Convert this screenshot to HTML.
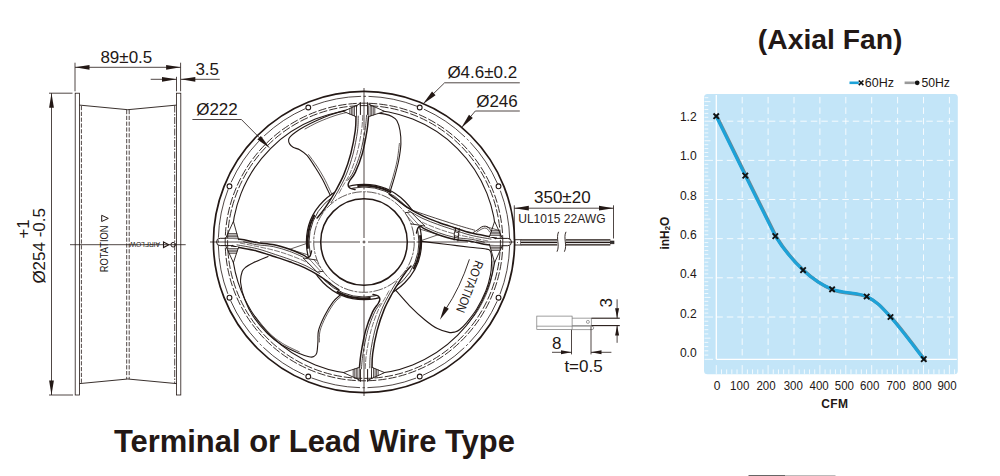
<!DOCTYPE html>
<html><head><meta charset="utf-8"><title>Axial Fan</title>
<style>
html,body{margin:0;padding:0;background:#fff;}
body{width:1000px;height:476px;overflow:hidden;}
svg{display:block;font-family:"Liberation Sans",sans-serif;}
</style></head><body>
<svg width="1000" height="476" viewBox="0 0 1000 476">
<rect width="1000" height="476" fill="#ffffff"/>
<g id="side" fill="none" stroke="#231815" stroke-width="0.9">
<rect x="75.2" y="93.2" width="4.3" height="301.8" stroke-width="0.8"/>
<rect x="176.5" y="93.2" width="4.3" height="301.8" stroke-width="0.8"/>
<polyline points="79.5,105.1 127.8,109.7 176.5,105.1" stroke-width="0.9"/>
<polyline points="79.5,383.6 127.8,379.0 176.5,383.6" stroke-width="0.9"/>
<line x1="81.4" y1="106" x2="81.4" y2="383.4" stroke-dasharray="4.2 1.6" stroke-width="0.8"/>
<line x1="126.7" y1="110" x2="126.7" y2="379" stroke-dasharray="4.2 1.6" stroke-width="0.8"/>
<line x1="129.2" y1="110" x2="129.2" y2="379" stroke-dasharray="4.2 1.6" stroke-width="0.8"/>
<line x1="174.7" y1="105.5" x2="174.7" y2="383.4" stroke-dasharray="7 1.5 1.5 1.5" stroke-width="0.8"/>
<line x1="70" y1="244.7" x2="185.7" y2="244.7" stroke-width="0.8"/>
<line x1="75.00" y1="62.70" x2="75.00" y2="91.30" stroke="#231815" stroke-width="0.8" />
<line x1="180.60" y1="62.70" x2="180.60" y2="91.30" stroke="#231815" stroke-width="0.8" />
<line x1="75.00" y1="67.30" x2="180.60" y2="67.30" stroke="#231815" stroke-width="0.8" />
<line x1="176.50" y1="76.80" x2="176.50" y2="91.30" stroke="#231815" stroke-width="0.8" />
<line x1="150.70" y1="79.30" x2="176.50" y2="79.30" stroke="#231815" stroke-width="0.8" />
<line x1="180.80" y1="79.30" x2="219.80" y2="79.30" stroke="#231815" stroke-width="0.8" />
<line x1="49.00" y1="93.20" x2="72.50" y2="93.20" stroke="#231815" stroke-width="0.8" />
<line x1="49.00" y1="395.00" x2="73.00" y2="395.00" stroke="#231815" stroke-width="0.8" />
<line x1="51.50" y1="93.20" x2="51.50" y2="395.00" stroke="#231815" stroke-width="0.8" />
</g>
<polygon points="75.00,67.30 89.50,64.90 89.50,69.70" fill="#231815"/>
<polygon points="180.60,67.30 166.10,69.70 166.10,64.90" fill="#231815"/>
<polygon points="176.50,79.30 162.00,81.70 162.00,76.90" fill="#231815"/>
<polygon points="180.80,79.30 195.30,76.90 195.30,81.70" fill="#231815"/>
<polygon points="51.50,93.20 53.90,107.70 49.10,107.70" fill="#231815"/>
<polygon points="51.50,395.00 49.10,380.50 53.90,380.50" fill="#231815"/>
<text x="100.40" y="62.70" font-size="17.0" text-anchor="start" font-weight="normal" fill="#231815" >89±0.5</text>
<text x="195.40" y="74.70" font-size="17.0" text-anchor="start" font-weight="normal" fill="#231815" >3.5</text>
<text x="0.00" y="0.00" font-size="17.0" text-anchor="start" font-weight="normal" fill="#231815" transform="translate(44.5,283.6) rotate(-90)">Ø254 -0.5</text>
<text x="0.00" y="0.00" font-size="17.0" text-anchor="start" font-weight="normal" fill="#231815" transform="translate(28.9,238.6) rotate(-90)">+1</text>
<text x="0.00" y="0.00" font-size="11.0" text-anchor="start" font-weight="normal" fill="#231815" textLength="46.7" lengthAdjust="spacingAndGlyphs" transform="translate(108.2,272.2) rotate(-90)">ROTATION</text>
<polygon points="101.7,215.3 108.3,218.4 101.7,221.5" fill="none" stroke="#231815" stroke-width="1.0"/>
<text x="0.00" y="0.00" font-size="7.1" text-anchor="start" font-weight="normal" fill="#231815" textLength="30.3" lengthAdjust="spacingAndGlyphs" transform="translate(160.0,242.2) rotate(180)">AIRFLOW</text>
<polygon points="163.5,241.9 168.8,244.7 163.5,247.5" fill="none" stroke="#231815" stroke-width="1.1"/>
<circle cx="173.2" cy="244.7" r="2.3" fill="none" stroke="#231815" stroke-width="1.0"/>
<g id="front" fill="none" stroke="#231815" stroke-width="0.9" stroke-linecap="round" stroke-linejoin="round">
<circle cx="364.0" cy="242.0" r="132.2" stroke-width="1.1"/>
<path d="M352.50,109.30 C351.07,109.52 347.65,109.65 343.90,110.60 C340.15,111.55 334.62,113.30 330.00,115.00 C325.38,116.70 320.43,118.87 316.20,120.80 C311.97,122.73 308.05,124.68 304.60,126.60 C301.15,128.52 297.88,130.63 295.50,132.30 C293.12,133.97 291.45,135.38 290.30,136.60 C289.15,137.82 288.72,138.38 288.60,139.60 C288.48,140.82 288.85,142.62 289.60,143.90 C290.35,145.18 291.37,146.30 293.10,147.30 C294.83,148.30 297.68,148.55 300.00,149.90 C302.32,151.25 304.50,152.55 307.00,155.40 C309.50,158.25 312.50,163.15 315.00,167.00 C317.50,170.85 319.88,174.67 322.00,178.50 C324.12,182.33 326.23,187.00 327.70,190.00 C329.17,193.00 330.28,195.42 330.80,196.50" stroke-width="1.1"/>
<path d="M349.00,111.90 C346.67,112.52 340.17,113.88 335.00,115.60 C329.83,117.32 323.00,119.97 318.00,122.20 C313.00,124.43 307.17,127.87 305.00,129.00" stroke-width="0.7"/>
<path d="M308.60,154.60 C309.97,156.50 314.27,162.17 316.80,166.00 C319.33,169.83 321.68,173.73 323.80,177.60 C325.92,181.47 328.07,186.20 329.50,189.20 C330.93,192.20 331.92,194.53 332.40,195.60" stroke-width="0.7"/>
<path d="M375.50,112.90 C377.08,113.10 382.25,113.48 385.00,114.10 C387.75,114.72 390.03,115.52 392.00,116.60 C393.97,117.68 395.47,118.28 396.80,120.60 C398.13,122.92 399.32,126.58 400.00,130.50 C400.68,134.42 401.12,139.10 400.90,144.10 C400.68,149.10 399.75,155.03 398.70,160.50 C397.65,165.97 396.00,171.82 394.60,176.90 C393.20,181.98 391.02,188.65 390.30,191.00" stroke-width="1.1"/>
<path d="M399.40,143.50 C399.03,146.28 398.25,154.70 397.20,160.20 C396.15,165.70 394.47,171.60 393.10,176.50 C391.73,181.40 389.68,187.42 389.00,189.60" stroke-width="0.7"/>
<path d="M394.80,289.20 C397.27,291.97 404.62,300.72 409.60,305.80 C414.58,310.88 420.07,315.90 424.70,319.70 C429.33,323.50 433.37,326.48 437.40,328.60 C441.43,330.72 445.97,331.83 448.90,332.40 C451.83,332.97 453.23,332.43 455.00,332.00 C456.77,331.57 457.63,331.28 459.50,329.80 C461.37,328.32 463.35,326.52 466.20,323.10 C469.05,319.68 473.32,314.68 476.60,309.30 C479.88,303.92 483.58,296.58 485.90,290.80 C488.22,285.02 489.55,279.40 490.50,274.60 C491.45,269.80 491.48,265.43 491.60,262.00 C491.72,258.57 491.53,255.97 491.20,254.00 C490.87,252.03 490.47,251.03 489.60,250.20 C488.73,249.37 489.27,249.50 486.00,249.00 C482.73,248.50 476.00,247.90 470.00,247.20 C464.00,246.50 456.67,245.60 450.00,244.80 C443.33,244.00 436.33,243.20 430.00,242.40 C423.67,241.60 415.00,240.40 412.00,240.00" stroke-width="1.1"/>
<path d="M467.60,324.20 C469.33,321.87 474.70,315.67 478.00,310.20 C481.30,304.73 485.07,297.27 487.40,291.40 C489.73,285.53 491.05,280.07 492.00,275.00 C492.95,269.93 492.92,263.33 493.10,261.00" stroke-width="0.7"/>
<path d="M268.00,256.40 C265.55,257.45 256.97,260.93 253.30,262.70 C249.63,264.47 247.85,265.53 246.00,267.00 C244.15,268.47 243.10,268.92 242.20,271.50 C241.30,274.08 240.17,277.83 240.60,282.50 C241.03,287.17 242.68,293.83 244.80,299.50 C246.92,305.17 249.52,310.83 253.30,316.50 C257.08,322.17 262.77,328.78 267.50,333.50 C272.23,338.22 276.50,341.50 281.70,344.80 C286.90,348.10 294.15,351.30 298.70,353.30 C303.25,355.30 306.48,356.25 309.00,356.80 C311.52,357.35 312.50,357.27 313.80,356.60 C315.10,355.93 316.12,355.23 316.80,352.80 C317.48,350.37 317.62,345.68 317.90,342.00 C318.18,338.32 317.45,334.95 318.50,330.70 C319.55,326.45 321.83,321.23 324.20,316.50 C326.57,311.77 330.03,305.88 332.70,302.30 C335.37,298.72 338.95,296.22 340.20,295.00" stroke-width="1.1"/>
<path d="M254.60,315.70 C256.93,318.48 263.93,327.77 268.60,332.40 C273.27,337.03 277.48,340.25 282.60,343.50 C287.72,346.75 296.52,350.50 299.30,351.90" stroke-width="0.7"/>
<path d="M319.40,342.00 C319.50,340.17 318.97,335.13 320.00,331.00 C321.03,326.87 323.27,321.82 325.60,317.20 C327.93,312.58 331.40,306.78 334.00,303.30 C336.60,299.82 340.00,297.47 341.20,296.30" stroke-width="0.7"/>
<circle cx="364.0" cy="242.0" r="57.6" fill="#fff" stroke="none"/>
<circle cx="364.0" cy="242.0" r="57.6" stroke-width="1.2"/>
<circle cx="364.0" cy="242.0" r="55.0" stroke-width="0.9"/>
<defs>
<g id="strutW"><path d="M356.20,106.00 C356.18,106.75 356.13,108.92 356.10,110.50 C356.07,112.08 356.13,112.17 356.00,115.50 C355.87,118.83 356.17,124.15 355.30,130.50 C354.43,136.85 352.70,146.28 350.80,153.60 C348.90,160.92 346.40,168.25 343.90,174.40 C341.40,180.55 338.30,185.88 335.80,190.50 C333.30,195.12 331.12,198.60 328.90,202.10 C326.68,205.60 324.48,208.85 322.50,211.50 C320.52,214.15 317.92,216.92 317.00,218.00 L355.00,189.50 C354.13,189.25 350.95,188.78 349.80,188.00 C348.65,187.22 348.10,186.05 348.10,184.80 C348.10,183.55 348.58,182.62 349.80,180.50 C351.02,178.38 353.32,176.58 355.40,172.10 C357.48,167.62 360.37,160.53 362.30,153.60 C364.23,146.67 365.95,136.85 367.00,130.50 C368.05,124.15 368.30,118.83 368.60,115.50 C368.90,112.17 368.77,112.08 368.80,110.50 C368.83,108.92 368.80,106.75 368.80,106.00 Z" fill="#fff" stroke="none"/><path d="M356.20,106.00 C356.18,106.75 356.13,108.92 356.10,110.50 C356.07,112.08 356.13,112.17 356.00,115.50 C355.87,118.83 356.17,124.15 355.30,130.50 C354.43,136.85 352.70,146.28 350.80,153.60 C348.90,160.92 346.40,168.25 343.90,174.40 C341.40,180.55 338.30,185.88 335.80,190.50 C333.30,195.12 331.12,198.60 328.90,202.10 C326.68,205.60 324.48,208.85 322.50,211.50 C320.52,214.15 317.92,216.92 317.00,218.00" stroke-width="1.5"/><path d="M368.80,106.00 C368.80,106.75 368.83,108.92 368.80,110.50 C368.77,112.08 368.90,112.17 368.60,115.50 C368.30,118.83 368.05,124.15 367.00,130.50 C365.95,136.85 364.23,146.67 362.30,153.60 C360.37,160.53 357.48,167.62 355.40,172.10 C353.32,176.58 351.02,178.38 349.80,180.50 C348.58,182.62 348.10,183.55 348.10,184.80 C348.10,186.05 348.65,187.22 349.80,188.00 C350.95,188.78 354.13,189.25 355.00,189.50" stroke-width="1.5"/><path d="M358.20,116.10 C358.08,118.60 358.37,124.75 357.50,131.10 C356.63,137.45 354.90,146.88 353.00,154.20 C351.10,161.52 348.60,168.85 346.10,175.00 C343.60,181.15 340.50,186.48 338.00,191.10 C335.50,195.72 332.25,200.77 331.10,202.70" stroke-width="0.8"/><path d="M366.60,115.20 C366.33,117.70 366.05,123.85 365.00,130.20 C363.95,136.55 362.23,146.37 360.30,153.30 C358.37,160.23 355.48,167.32 353.40,171.80 C351.32,176.28 348.73,178.80 347.80,180.20" stroke-width="0.8"/><path d="M362.70,115.50 C362.51,118.00 362.51,124.15 361.55,130.50 C360.59,136.85 358.87,146.47 356.95,153.60 C355.03,160.72 352.34,167.93 350.05,173.25 C347.76,178.57 345.06,182.13 343.20,185.50 C341.34,188.87 339.62,192.12 338.90,193.45" stroke-width="0.6" stroke-dasharray="5 2"/><polygon points="360.50,103.60 343.40,111.40 356.00,116.60 356.00,105.65" fill="#fff" stroke="none"/><line x1="354.45" y1="106.36" x2="354.45" y2="115.96" stroke-width="0.75"/><line x1="352.90" y1="107.07" x2="352.90" y2="115.32" stroke-width="0.75"/><line x1="351.35" y1="107.77" x2="351.35" y2="114.68" stroke-width="0.75"/><line x1="349.80" y1="108.48" x2="349.80" y2="114.04" stroke-width="0.75"/><path d="M360.50,103.60 L343.40,111.40 L356.00,116.60" stroke-width="0.9"/><polygon points="367.50,103.60 384.60,111.40 368.60,116.60 368.60,104.10" fill="#fff" stroke="none"/><line x1="370.15" y1="104.81" x2="370.15" y2="116.10" stroke-width="0.75"/><line x1="371.70" y1="105.52" x2="371.70" y2="115.59" stroke-width="0.75"/><line x1="373.25" y1="106.22" x2="373.25" y2="115.09" stroke-width="0.75"/><line x1="374.80" y1="106.93" x2="374.80" y2="114.59" stroke-width="0.75"/><path d="M367.50,103.60 L384.60,111.40 L368.60,116.60" stroke-width="0.9"/><rect x="360.40" y="102.40" width="7.2" height="4.0" fill="#fff" stroke="none"/><path d="M360.40,102.60 V114.50 M367.60,102.60 V114.50" stroke-width="1.0"/></g>
<g id="strutN"><path d="M360.40,95.70 C360.40,98.17 360.65,107.38 360.40,110.50 C360.15,113.62 359.78,110.40 358.90,114.40 C358.02,118.40 356.72,128.07 355.10,134.50 C353.48,140.93 351.02,147.47 349.20,153.00 C347.38,158.53 346.00,162.80 344.20,167.70 C342.40,172.60 340.72,177.50 338.40,182.40 C336.08,187.30 333.12,192.58 330.30,197.10 C327.48,201.62 323.88,206.18 321.50,209.50 C319.12,212.82 316.92,215.75 316.00,217.00 L355.00,189.50 C354.13,189.25 350.90,188.68 349.80,188.00 C348.70,187.32 348.22,186.48 348.40,185.40 C348.58,184.32 349.52,184.45 350.90,181.50 C352.28,178.55 354.97,172.62 356.70,167.70 C358.43,162.78 360.18,157.53 361.30,152.00 C362.42,146.47 362.58,139.50 363.40,134.50 C364.22,129.50 365.48,126.00 366.20,122.00 C366.92,118.00 367.45,114.88 367.70,110.50 C367.95,106.12 367.70,98.17 367.70,95.70 Z" fill="#fff" stroke="none"/><path d="M360.40,110.50 L360.40,98.20 A3.65,3.65 0 0 1 367.70,98.20 L367.70,110.50" fill="#fff" stroke-width="1.0"/><path d="M360.40,110.50 C360.15,111.15 359.78,110.40 358.90,114.40 C358.02,118.40 356.72,128.07 355.10,134.50 C353.48,140.93 351.02,147.47 349.20,153.00 C347.38,158.53 346.00,162.80 344.20,167.70 C342.40,172.60 340.72,177.50 338.40,182.40 C336.08,187.30 333.12,192.58 330.30,197.10 C327.48,201.62 323.88,206.18 321.50,209.50 C319.12,212.82 316.92,215.75 316.00,217.00" stroke-width="1.5"/><path d="M367.70,110.50 C367.45,112.42 366.92,118.00 366.20,122.00 C365.48,126.00 364.22,129.50 363.40,134.50 C362.58,139.50 362.42,146.47 361.30,152.00 C360.18,157.53 358.43,162.78 356.70,167.70 C354.97,172.62 352.28,178.55 350.90,181.50 C349.52,184.45 348.58,184.32 348.40,185.40 C348.22,186.48 348.70,187.32 349.80,188.00 C350.90,188.68 354.13,189.25 355.00,189.50" stroke-width="1.5"/><path d="M361.10,115.00 C360.47,118.35 358.92,128.67 357.30,135.10 C355.68,141.53 353.22,148.07 351.40,153.60 C349.58,159.13 348.20,163.40 346.40,168.30 C344.60,173.20 342.92,178.10 340.60,183.00 C338.28,187.90 333.85,195.25 332.50,197.70" stroke-width="0.8"/><path d="M364.20,121.70 C363.73,123.78 362.22,129.20 361.40,134.20 C360.58,139.20 360.42,146.17 359.30,151.70 C358.18,157.23 356.43,162.48 354.70,167.40 C352.97,172.32 349.87,178.90 348.90,181.20" stroke-width="0.8"/><path d="M362.95,118.20 C362.40,120.92 360.87,128.78 359.65,134.50 C358.43,140.22 357.12,146.97 355.65,152.50 C354.18,158.03 352.62,162.79 350.85,167.70 C349.08,172.61 346.90,178.02 345.05,181.95 C343.20,185.88 340.63,189.70 339.75,191.25" stroke-width="0.6" stroke-dasharray="5 2"/><polygon points="360.50,103.60 343.40,111.40 358.90,116.60 358.90,104.33" fill="#fff" stroke="none"/><line x1="357.35" y1="105.04" x2="357.35" y2="116.08" stroke-width="0.75"/><line x1="355.80" y1="105.74" x2="355.80" y2="115.56" stroke-width="0.75"/><line x1="354.25" y1="106.45" x2="354.25" y2="115.04" stroke-width="0.75"/><line x1="352.70" y1="107.16" x2="352.70" y2="114.52" stroke-width="0.75"/><path d="M360.50,103.60 L343.40,111.40 L358.90,116.60" stroke-width="0.9"/><polygon points="367.50,103.60 384.60,111.40 366.20,116.60 366.20,103.01" fill="#fff" stroke="none"/><line x1="367.75" y1="103.71" x2="367.75" y2="116.16" stroke-width="0.75"/><line x1="369.30" y1="104.42" x2="369.30" y2="115.72" stroke-width="0.75"/><line x1="370.85" y1="105.13" x2="370.85" y2="115.29" stroke-width="0.75"/><line x1="372.40" y1="105.84" x2="372.40" y2="114.85" stroke-width="0.75"/><path d="M367.50,103.60 L384.60,111.40 L366.20,116.60" stroke-width="0.9"/><path d="M356.70,167.70 L362.50,184.60 M356.70,167.70 L351.20,185.80" stroke-width="0.7"/><polygon points="348.00,181.50 345.00,200.50 335.40,206.40 334.00,195.60" fill="#fff" stroke-width="0.9"/><line x1="347.10" y1="187.20" x2="334.42" y2="198.84" stroke-width="0.6"/><line x1="346.35" y1="191.95" x2="334.77" y2="201.54" stroke-width="0.6"/><line x1="345.60" y1="196.70" x2="335.12" y2="204.24" stroke-width="0.6"/></g>
</defs>
<use href="#strutW"/>
<use href="#strutW" transform="rotate(180 364.0 242.0)"/>
<use href="#strutN" transform="rotate(90 364.0 242.0)"/>
<use href="#strutN" transform="rotate(-90 364.0 242.0)"/>
<path d="M401.00,203.00 C402.67,204.08 406.33,207.33 411.00,209.50 C415.67,211.67 421.58,213.48 429.00,216.00 C436.42,218.52 447.90,222.23 455.50,224.60 C463.10,226.97 471.42,229.27 474.60,230.20" stroke-width="0.8"/>
<path d="M455.6,227.6 L454.2,240.0 M459.3,228.6 L457.9,241.0" stroke-width="1.0"/>
<path d="M454.9,231.8 L458.6,232.8 L458.1,236.6 L454.4,235.6 Z" fill="#fff" stroke-width="0.8"/>
<path d="M473.50,232.40 C474.25,231.93 476.67,230.50 478.00,229.60 C479.33,228.70 480.30,227.57 481.50,227.00 C482.70,226.43 484.03,226.10 485.20,226.20 C486.37,226.30 487.47,226.73 488.50,227.60 C489.53,228.47 490.92,230.77 491.40,231.40" stroke-width="1.0"/>
<path d="M476.80,232.20 C477.50,231.73 479.67,230.10 481.00,229.40 C482.33,228.70 483.70,228.03 484.80,228.00 C485.90,227.97 486.80,228.53 487.60,229.20 C488.40,229.87 489.27,231.53 489.60,232.00" stroke-width="0.7"/>
<path d="M487.0,227.0 L498.8,230.3" stroke-width="0.7"/>
<circle cx="364.0" cy="242.0" r="50.3" stroke-width="0.7" stroke-dasharray="9 2 2 2" fill="#fff"/>
<circle cx="364.0" cy="242.0" r="43.3" stroke-width="1.5"/>
<path d="M358.10,185.91 A56.4,56.4 0 0 1 390.48,192.20" stroke-width="2.0"/>
<path d="M420.09,236.10 A56.4,56.4 0 0 1 413.80,268.48" stroke-width="2.0"/>
<path d="M369.90,298.09 A56.4,56.4 0 0 1 337.52,291.80" stroke-width="2.0"/>
<path d="M307.91,247.90 A56.4,56.4 0 0 1 314.20,215.52" stroke-width="2.0"/>
<circle cx="364.0" cy="242.0" r="150.6" stroke-width="1.7"/>
<circle cx="364.0" cy="242.0" r="145.7" stroke-width="0.8" stroke-dasharray="49.76 2.5 2.5 2.5" stroke-dashoffset="53.51" stroke-linecap="butt"/>
<circle cx="364.0" cy="242.0" r="138.8" stroke-width="0.9" stroke-dasharray="7.5 2.8"/>
<circle cx="364.0" cy="242.0" r="136.4" stroke-width="0.9" stroke-dasharray="7.5 2.8"/>
<circle cx="498.52" cy="297.72" r="2.4" fill="#fff" stroke-width="1.1"/>
<circle cx="419.72" cy="376.52" r="2.4" fill="#fff" stroke-width="1.1"/>
<circle cx="308.28" cy="376.52" r="2.4" fill="#fff" stroke-width="1.1"/>
<circle cx="229.48" cy="297.72" r="2.4" fill="#fff" stroke-width="1.1"/>
<circle cx="229.48" cy="186.28" r="2.4" fill="#fff" stroke-width="1.1"/>
<circle cx="308.28" cy="107.48" r="2.4" fill="#fff" stroke-width="1.1"/>
<circle cx="419.72" cy="107.48" r="2.4" fill="#fff" stroke-width="1.1"/>
<circle cx="498.52" cy="186.28" r="2.4" fill="#fff" stroke-width="1.1"/>
<line x1="364.0" y1="242.0" x2="210.0" y2="242.0" stroke-width="0.8" stroke-dasharray="3 2.5 46 2.5" stroke-dashoffset="1.5" stroke-linecap="butt"/>
<line x1="364.0" y1="242.0" x2="516.0" y2="242.0" stroke-width="0.8" stroke-dasharray="3 2.5 46 2.5" stroke-dashoffset="1.5" stroke-linecap="butt"/>
<line x1="364.0" y1="242.0" x2="364.0" y2="88.0" stroke-width="0.8" stroke-dasharray="3 2.5 46 2.5" stroke-dashoffset="1.5" stroke-linecap="butt"/>
<line x1="364.0" y1="242.0" x2="364.0" y2="396.0" stroke-width="0.8" stroke-dasharray="3 2.5 46 2.5" stroke-dashoffset="1.5" stroke-linecap="butt"/>
</g>
<g fill="none" stroke="#231815" stroke-width="0.8">
<polyline points="192.4,119.5 241.4,119.5 262.5,140.8"/>
<polyline points="519.8,82.8 444.6,82.8 428.5,98.5"/>
<polyline points="519.8,111.0 475.3,111.0 466.5,121.5"/>
</g>
<polygon points="270.20,148.60 257.39,139.52 260.90,135.95" fill="#231815"/>
<polygon points="422.70,104.20 432.04,91.58 435.53,95.16" fill="#231815"/>
<polygon points="461.00,128.20 468.99,114.68 472.83,117.88" fill="#231815"/>
<text x="196.20" y="114.60" font-size="17.0" text-anchor="start" font-weight="normal" fill="#231815" >Ø222</text>
<text x="447.40" y="78.40" font-size="17.0" text-anchor="start" font-weight="normal" fill="#231815" >Ø4.6±0.2</text>
<text x="476.20" y="107.40" font-size="17.0" text-anchor="start" font-weight="normal" fill="#231815" >Ø246</text>
<text x="0.00" y="0.00" font-size="12.6" text-anchor="start" font-weight="normal" fill="#231815" textLength="54.5" lengthAdjust="spacingAndGlyphs" transform="translate(475.4,259.8) rotate(111)">ROTATION</text>
<path d="M469.4,259.3 Q460,288 445.5,309.5" fill="none" stroke="#231815" stroke-width="0.9"/>
<polygon points="440.00,319.80 444.24,306.21 448.84,308.64" fill="#231815"/>
<g fill="none" stroke="#231815" stroke-width="0.8">
<line x1="514.30" y1="205.30" x2="514.30" y2="240.00" stroke="#231815" stroke-width="0.8" />
<line x1="613.50" y1="205.30" x2="613.50" y2="238.50" stroke="#231815" stroke-width="0.8" />
<line x1="514.30" y1="208.20" x2="613.50" y2="208.20" stroke="#231815" stroke-width="0.8" />
<rect x="515.0" y="239.7" width="5.8" height="5.3" fill="#fff" stroke-width="0.9"/>
<circle cx="517.4" cy="242.4" r="0.5" fill="#231815" stroke="none"/>
<rect x="520.8" y="239.8" width="89.6" height="5.1" fill="#e4e4e4" stroke="none"/>
<line x1="520.8" y1="239.9" x2="610.4" y2="239.9" stroke-width="1.1"/>
<line x1="520.8" y1="242.4" x2="610.4" y2="242.4" stroke-width="1.2"/>
<line x1="520.8" y1="244.9" x2="610.4" y2="244.9" stroke-width="1.1"/>
<rect x="610.4" y="241.0" width="3.6" height="2.8" fill="#333" stroke-width="0.6"/>
<rect x="557.2" y="236" width="8.6" height="13" fill="#fff" stroke="none"/>
<path d="M558.6,231.8 C555.6,238 560.2,245 557.0,251.7" stroke-width="0.9"/>
<path d="M566.0,231.8 C563.0,238 567.6,245 564.4,251.7" stroke-width="0.9"/>
</g>
<polygon points="514.30,208.20 528.80,205.80 528.80,210.60" fill="#231815"/>
<polygon points="613.50,208.20 599.00,210.60 599.00,205.80" fill="#231815"/>
<text x="534.00" y="203.40" font-size="17.0" text-anchor="start" font-weight="normal" fill="#231815" >350±20</text>
<text x="518.20" y="223.30" font-size="12.4" text-anchor="start" font-weight="normal" fill="#2b2422" textLength="87.4" lengthAdjust="spacingAndGlyphs" >UL1015 22AWG</text>
<g fill="none" stroke="#777" stroke-width="0.7">
<rect x="536.8" y="316.1" width="35.3" height="13.5"/>
<line x1="536.8" y1="326.2" x2="592.3" y2="326.2"/>
<path d="M572.1,318.2 H591.4 V325.6 H572.1"/>
<circle cx="587.9" cy="321.9" r="1.5"/>
<path d="M572.1,329.6 H592.0 A1.7,1.7 0 0 0 592.0,326.2"/>
</g>
<g fill="none" stroke="#231815" stroke-width="1.0">
<line x1="591.40" y1="318.20" x2="619.80" y2="318.20" stroke="#231815" stroke-width="1.1" />
<line x1="591.40" y1="325.60" x2="619.80" y2="325.60" stroke="#231815" stroke-width="1.1" />
<line x1="617.10" y1="299.30" x2="617.10" y2="318.20" stroke="#231815" stroke-width="0.8" />
<line x1="617.10" y1="325.60" x2="617.10" y2="342.80" stroke="#231815" stroke-width="0.8" />
<line x1="571.50" y1="329.80" x2="571.50" y2="354.40" stroke="#231815" stroke-width="0.8" />
<line x1="591.00" y1="326.50" x2="591.00" y2="354.40" stroke="#231815" stroke-width="0.8" />
<line x1="552.00" y1="352.30" x2="571.50" y2="352.30" stroke="#231815" stroke-width="0.8" />
<line x1="591.00" y1="352.30" x2="611.40" y2="352.30" stroke="#231815" stroke-width="0.8" />
</g>
<polygon points="617.10,318.20 615.10,308.20 619.10,308.20" fill="#231815"/>
<polygon points="617.10,325.60 619.10,335.60 615.10,335.60" fill="#231815"/>
<polygon points="571.50,352.30 561.00,354.30 561.00,350.30" fill="#231815"/>
<polygon points="591.00,352.30 601.50,350.30 601.50,354.30" fill="#231815"/>
<text x="0.00" y="0.00" font-size="17.0" text-anchor="start" font-weight="normal" fill="#231815" transform="translate(612.4,307.6) rotate(-90)">3</text>
<text x="552.00" y="349.10" font-size="17.0" text-anchor="start" font-weight="normal" fill="#231815" >8</text>
<text x="564.40" y="371.80" font-size="17.0" text-anchor="start" font-weight="normal" fill="#231815" >t=0.5</text>
<text x="113.90" y="451.80" font-size="31.6" text-anchor="start" font-weight="bold" fill="#231815" textLength="401.0" lengthAdjust="spacingAndGlyphs" >Terminal or Lead Wire Type</text>
<text x="757.80" y="48.90" font-size="28.2" text-anchor="start" font-weight="bold" fill="#231815" textLength="144.6" lengthAdjust="spacingAndGlyphs" >(Axial Fan)</text>
<rect x="704.0" y="93.9" width="253.8" height="280.3" rx="3.5" ry="3.5" fill="#c3e5f8"/>
<g stroke="#fff" stroke-width="0.85" fill="none">
<line x1="742.2" y1="96.9" x2="742.2" y2="359.3" stroke-dasharray="6.5 4"/>
<line x1="768.1" y1="96.9" x2="768.1" y2="359.3" stroke-dasharray="6.5 4"/>
<line x1="794.0" y1="96.9" x2="794.0" y2="359.3" stroke-dasharray="6.5 4"/>
<line x1="819.9" y1="96.9" x2="819.9" y2="359.3" stroke-dasharray="6.5 4"/>
<line x1="845.8" y1="96.9" x2="845.8" y2="359.3" stroke-dasharray="6.5 4"/>
<line x1="871.7" y1="96.9" x2="871.7" y2="359.3" stroke-dasharray="6.5 4"/>
<line x1="897.6" y1="96.9" x2="897.6" y2="359.3" stroke-dasharray="6.5 4"/>
<line x1="923.5" y1="96.9" x2="923.5" y2="359.3" stroke-dasharray="6.5 4"/>
<line x1="949.4" y1="96.9" x2="949.4" y2="359.3" stroke-dasharray="6.5 4"/>
<line x1="716.3" y1="121.2" x2="956.8" y2="121.2" stroke-dasharray="6.5 4"/>
<line x1="716.3" y1="160.4" x2="956.8" y2="160.4" stroke-dasharray="6.5 4"/>
<line x1="716.3" y1="199.5" x2="956.8" y2="199.5" stroke-dasharray="6.5 4"/>
<line x1="716.3" y1="238.7" x2="956.8" y2="238.7" stroke-dasharray="6.5 4"/>
<line x1="716.3" y1="277.8" x2="956.8" y2="277.8" stroke-dasharray="6.5 4"/>
<line x1="716.3" y1="317.0" x2="956.8" y2="317.0" stroke-dasharray="6.5 4"/>
<line x1="716.3" y1="94.9" x2="716.3" y2="359.3" stroke-width="1.3"/>
<line x1="716.3" y1="359.3" x2="956.8" y2="359.3" stroke-width="1.3"/>
<line x1="704.5" y1="317.00" x2="713.0" y2="317.00" stroke-width="0.8"/>
<line x1="704.5" y1="313.08" x2="708.3" y2="313.08" stroke-width="0.8"/>
<line x1="704.5" y1="309.17" x2="708.3" y2="309.17" stroke-width="0.8"/>
<line x1="704.5" y1="305.25" x2="708.3" y2="305.25" stroke-width="0.8"/>
<line x1="704.5" y1="301.34" x2="708.3" y2="301.34" stroke-width="0.8"/>
<line x1="704.5" y1="297.42" x2="710.5" y2="297.42" stroke-width="0.8"/>
<line x1="704.5" y1="293.50" x2="708.3" y2="293.50" stroke-width="0.8"/>
<line x1="704.5" y1="289.59" x2="708.3" y2="289.59" stroke-width="0.8"/>
<line x1="704.5" y1="285.67" x2="708.3" y2="285.67" stroke-width="0.8"/>
<line x1="704.5" y1="281.76" x2="708.3" y2="281.76" stroke-width="0.8"/>
<line x1="704.5" y1="277.84" x2="713.0" y2="277.84" stroke-width="0.8"/>
<line x1="704.5" y1="273.92" x2="708.3" y2="273.92" stroke-width="0.8"/>
<line x1="704.5" y1="270.01" x2="708.3" y2="270.01" stroke-width="0.8"/>
<line x1="704.5" y1="266.09" x2="708.3" y2="266.09" stroke-width="0.8"/>
<line x1="704.5" y1="262.18" x2="708.3" y2="262.18" stroke-width="0.8"/>
<line x1="704.5" y1="258.26" x2="710.5" y2="258.26" stroke-width="0.8"/>
<line x1="704.5" y1="254.34" x2="708.3" y2="254.34" stroke-width="0.8"/>
<line x1="704.5" y1="250.43" x2="708.3" y2="250.43" stroke-width="0.8"/>
<line x1="704.5" y1="246.51" x2="708.3" y2="246.51" stroke-width="0.8"/>
<line x1="704.5" y1="242.60" x2="708.3" y2="242.60" stroke-width="0.8"/>
<line x1="704.5" y1="238.68" x2="713.0" y2="238.68" stroke-width="0.8"/>
<line x1="704.5" y1="234.76" x2="708.3" y2="234.76" stroke-width="0.8"/>
<line x1="704.5" y1="230.85" x2="708.3" y2="230.85" stroke-width="0.8"/>
<line x1="704.5" y1="226.93" x2="708.3" y2="226.93" stroke-width="0.8"/>
<line x1="704.5" y1="223.02" x2="708.3" y2="223.02" stroke-width="0.8"/>
<line x1="704.5" y1="219.10" x2="710.5" y2="219.10" stroke-width="0.8"/>
<line x1="704.5" y1="215.18" x2="708.3" y2="215.18" stroke-width="0.8"/>
<line x1="704.5" y1="211.27" x2="708.3" y2="211.27" stroke-width="0.8"/>
<line x1="704.5" y1="207.35" x2="708.3" y2="207.35" stroke-width="0.8"/>
<line x1="704.5" y1="203.44" x2="708.3" y2="203.44" stroke-width="0.8"/>
<line x1="704.5" y1="199.52" x2="713.0" y2="199.52" stroke-width="0.8"/>
<line x1="704.5" y1="195.60" x2="708.3" y2="195.60" stroke-width="0.8"/>
<line x1="704.5" y1="191.69" x2="708.3" y2="191.69" stroke-width="0.8"/>
<line x1="704.5" y1="187.77" x2="708.3" y2="187.77" stroke-width="0.8"/>
<line x1="704.5" y1="183.86" x2="708.3" y2="183.86" stroke-width="0.8"/>
<line x1="704.5" y1="179.94" x2="710.5" y2="179.94" stroke-width="0.8"/>
<line x1="704.5" y1="176.02" x2="708.3" y2="176.02" stroke-width="0.8"/>
<line x1="704.5" y1="172.11" x2="708.3" y2="172.11" stroke-width="0.8"/>
<line x1="704.5" y1="168.19" x2="708.3" y2="168.19" stroke-width="0.8"/>
<line x1="704.5" y1="164.28" x2="708.3" y2="164.28" stroke-width="0.8"/>
<line x1="704.5" y1="160.36" x2="713.0" y2="160.36" stroke-width="0.8"/>
<line x1="704.5" y1="156.44" x2="708.3" y2="156.44" stroke-width="0.8"/>
<line x1="704.5" y1="152.53" x2="708.3" y2="152.53" stroke-width="0.8"/>
<line x1="704.5" y1="148.61" x2="708.3" y2="148.61" stroke-width="0.8"/>
<line x1="704.5" y1="144.70" x2="708.3" y2="144.70" stroke-width="0.8"/>
<line x1="704.5" y1="140.78" x2="710.5" y2="140.78" stroke-width="0.8"/>
<line x1="704.5" y1="136.86" x2="708.3" y2="136.86" stroke-width="0.8"/>
<line x1="704.5" y1="132.95" x2="708.3" y2="132.95" stroke-width="0.8"/>
<line x1="704.5" y1="129.03" x2="708.3" y2="129.03" stroke-width="0.8"/>
<line x1="704.5" y1="125.12" x2="708.3" y2="125.12" stroke-width="0.8"/>
<line x1="704.5" y1="121.20" x2="713.0" y2="121.20" stroke-width="0.8"/>
<line x1="704.5" y1="117.28" x2="708.3" y2="117.28" stroke-width="0.8"/>
<line x1="704.5" y1="113.37" x2="708.3" y2="113.37" stroke-width="0.8"/>
<line x1="704.5" y1="109.45" x2="708.3" y2="109.45" stroke-width="0.8"/>
<line x1="704.5" y1="105.54" x2="708.3" y2="105.54" stroke-width="0.8"/>
<line x1="704.5" y1="101.62" x2="710.5" y2="101.62" stroke-width="0.8"/>
<line x1="704.5" y1="97.70" x2="708.3" y2="97.70" stroke-width="0.8"/>
<line x1="704.5" y1="321.23" x2="708.3" y2="321.23" stroke-width="0.8"/>
<line x1="704.5" y1="325.46" x2="708.3" y2="325.46" stroke-width="0.8"/>
<line x1="704.5" y1="329.69" x2="708.3" y2="329.69" stroke-width="0.8"/>
<line x1="704.5" y1="333.92" x2="708.3" y2="333.92" stroke-width="0.8"/>
<line x1="704.5" y1="338.15" x2="710.5" y2="338.15" stroke-width="0.8"/>
<line x1="704.5" y1="342.38" x2="708.3" y2="342.38" stroke-width="0.8"/>
<line x1="704.5" y1="346.61" x2="708.3" y2="346.61" stroke-width="0.8"/>
<line x1="704.5" y1="350.84" x2="708.3" y2="350.84" stroke-width="0.8"/>
<line x1="704.5" y1="355.07" x2="708.3" y2="355.07" stroke-width="0.8"/>
<line x1="704.5" y1="359.30" x2="713.0" y2="359.30" stroke-width="0.8"/>
<line x1="716.30" y1="373.9" x2="716.30" y2="365.1" stroke-width="0.8"/>
<line x1="721.48" y1="373.9" x2="721.48" y2="369.4" stroke-width="0.8"/>
<line x1="726.66" y1="373.9" x2="726.66" y2="369.4" stroke-width="0.8"/>
<line x1="731.84" y1="373.9" x2="731.84" y2="369.4" stroke-width="0.8"/>
<line x1="737.02" y1="373.9" x2="737.02" y2="369.4" stroke-width="0.8"/>
<line x1="742.20" y1="373.9" x2="742.20" y2="365.1" stroke-width="0.8"/>
<line x1="747.38" y1="373.9" x2="747.38" y2="369.4" stroke-width="0.8"/>
<line x1="752.56" y1="373.9" x2="752.56" y2="369.4" stroke-width="0.8"/>
<line x1="757.74" y1="373.9" x2="757.74" y2="369.4" stroke-width="0.8"/>
<line x1="762.92" y1="373.9" x2="762.92" y2="369.4" stroke-width="0.8"/>
<line x1="768.10" y1="373.9" x2="768.10" y2="365.1" stroke-width="0.8"/>
<line x1="773.28" y1="373.9" x2="773.28" y2="369.4" stroke-width="0.8"/>
<line x1="778.46" y1="373.9" x2="778.46" y2="369.4" stroke-width="0.8"/>
<line x1="783.64" y1="373.9" x2="783.64" y2="369.4" stroke-width="0.8"/>
<line x1="788.82" y1="373.9" x2="788.82" y2="369.4" stroke-width="0.8"/>
<line x1="794.00" y1="373.9" x2="794.00" y2="365.1" stroke-width="0.8"/>
<line x1="799.18" y1="373.9" x2="799.18" y2="369.4" stroke-width="0.8"/>
<line x1="804.36" y1="373.9" x2="804.36" y2="369.4" stroke-width="0.8"/>
<line x1="809.54" y1="373.9" x2="809.54" y2="369.4" stroke-width="0.8"/>
<line x1="814.72" y1="373.9" x2="814.72" y2="369.4" stroke-width="0.8"/>
<line x1="819.90" y1="373.9" x2="819.90" y2="365.1" stroke-width="0.8"/>
<line x1="825.08" y1="373.9" x2="825.08" y2="369.4" stroke-width="0.8"/>
<line x1="830.26" y1="373.9" x2="830.26" y2="369.4" stroke-width="0.8"/>
<line x1="835.44" y1="373.9" x2="835.44" y2="369.4" stroke-width="0.8"/>
<line x1="840.62" y1="373.9" x2="840.62" y2="369.4" stroke-width="0.8"/>
<line x1="845.80" y1="373.9" x2="845.80" y2="365.1" stroke-width="0.8"/>
<line x1="850.98" y1="373.9" x2="850.98" y2="369.4" stroke-width="0.8"/>
<line x1="856.16" y1="373.9" x2="856.16" y2="369.4" stroke-width="0.8"/>
<line x1="861.34" y1="373.9" x2="861.34" y2="369.4" stroke-width="0.8"/>
<line x1="866.52" y1="373.9" x2="866.52" y2="369.4" stroke-width="0.8"/>
<line x1="871.70" y1="373.9" x2="871.70" y2="365.1" stroke-width="0.8"/>
<line x1="876.88" y1="373.9" x2="876.88" y2="369.4" stroke-width="0.8"/>
<line x1="882.06" y1="373.9" x2="882.06" y2="369.4" stroke-width="0.8"/>
<line x1="887.24" y1="373.9" x2="887.24" y2="369.4" stroke-width="0.8"/>
<line x1="892.42" y1="373.9" x2="892.42" y2="369.4" stroke-width="0.8"/>
<line x1="897.60" y1="373.9" x2="897.60" y2="365.1" stroke-width="0.8"/>
<line x1="902.78" y1="373.9" x2="902.78" y2="369.4" stroke-width="0.8"/>
<line x1="907.96" y1="373.9" x2="907.96" y2="369.4" stroke-width="0.8"/>
<line x1="913.14" y1="373.9" x2="913.14" y2="369.4" stroke-width="0.8"/>
<line x1="918.32" y1="373.9" x2="918.32" y2="369.4" stroke-width="0.8"/>
<line x1="923.50" y1="373.9" x2="923.50" y2="365.1" stroke-width="0.8"/>
<line x1="928.68" y1="373.9" x2="928.68" y2="369.4" stroke-width="0.8"/>
<line x1="933.86" y1="373.9" x2="933.86" y2="369.4" stroke-width="0.8"/>
<line x1="939.04" y1="373.9" x2="939.04" y2="369.4" stroke-width="0.8"/>
<line x1="944.22" y1="373.9" x2="944.22" y2="369.4" stroke-width="0.8"/>
<line x1="949.40" y1="373.9" x2="949.40" y2="365.1" stroke-width="0.8"/>
<line x1="954.58" y1="373.9" x2="954.58" y2="369.4" stroke-width="0.8"/>
</g>
<path d="M716.20,116.20 L745.30,175.60 L775.30,236.10 C784.93,251.85 793.63,261.23 803.10,270.10 C812.57,278.97 821.50,284.90 832.10,289.30 C842.70,293.70 856.97,291.88 866.70,296.50 C876.43,301.12 880.98,306.57 890.50,317.00 C900.02,327.43 918.25,352.08 923.80,359.10" fill="none" stroke="#76858c" stroke-width="3.3" stroke-linecap="round" stroke-linejoin="round" transform="translate(1.0,0.7)"/>
<path d="M716.20,116.20 L745.30,175.60 L775.30,236.10 C784.93,251.85 793.63,261.23 803.10,270.10 C812.57,278.97 821.50,284.90 832.10,289.30 C842.70,293.70 856.97,291.88 866.70,296.50 C876.43,301.12 880.98,306.57 890.50,317.00 C900.02,327.43 918.25,352.08 923.80,359.10" fill="none" stroke="#1da2d8" stroke-width="3.1" stroke-linecap="round" stroke-linejoin="round"/>
<path d="M713.50,113.50 l5.4,5.4 M718.90,113.50 l-5.4,5.4" stroke="#111" stroke-width="1.9" fill="none"/>
<path d="M742.60,172.90 l5.4,5.4 M748.00,172.90 l-5.4,5.4" stroke="#111" stroke-width="1.9" fill="none"/>
<path d="M772.60,233.40 l5.4,5.4 M778.00,233.40 l-5.4,5.4" stroke="#111" stroke-width="1.9" fill="none"/>
<path d="M800.40,267.40 l5.4,5.4 M805.80,267.40 l-5.4,5.4" stroke="#111" stroke-width="1.9" fill="none"/>
<path d="M829.40,286.60 l5.4,5.4 M834.80,286.60 l-5.4,5.4" stroke="#111" stroke-width="1.9" fill="none"/>
<path d="M864.00,293.80 l5.4,5.4 M869.40,293.80 l-5.4,5.4" stroke="#111" stroke-width="1.9" fill="none"/>
<path d="M887.80,314.30 l5.4,5.4 M893.20,314.30 l-5.4,5.4" stroke="#111" stroke-width="1.9" fill="none"/>
<path d="M921.10,356.40 l5.4,5.4 M926.50,356.40 l-5.4,5.4" stroke="#111" stroke-width="1.9" fill="none"/>
<text x="696.70" y="121.00" font-size="12.1" text-anchor="end" font-weight="normal" fill="#231815" >1.2</text>
<text x="696.70" y="160.30" font-size="12.1" text-anchor="end" font-weight="normal" fill="#231815" >1.0</text>
<text x="696.70" y="199.60" font-size="12.1" text-anchor="end" font-weight="normal" fill="#231815" >0.8</text>
<text x="696.70" y="238.90" font-size="12.1" text-anchor="end" font-weight="normal" fill="#231815" >0.6</text>
<text x="696.70" y="278.20" font-size="12.1" text-anchor="end" font-weight="normal" fill="#231815" >0.4</text>
<text x="696.70" y="317.50" font-size="12.1" text-anchor="end" font-weight="normal" fill="#231815" >0.2</text>
<text x="696.70" y="356.80" font-size="12.1" text-anchor="end" font-weight="normal" fill="#231815" >0.0</text>
<text x="717.00" y="389.90" font-size="12.0" text-anchor="middle" font-weight="normal" fill="#231815" >0</text>
<text x="739.70" y="389.90" font-size="12.0" text-anchor="middle" font-weight="normal" fill="#231815" textLength="19.2" lengthAdjust="spacingAndGlyphs" >100</text>
<text x="766.00" y="389.90" font-size="12.0" text-anchor="middle" font-weight="normal" fill="#231815" textLength="19.2" lengthAdjust="spacingAndGlyphs" >200</text>
<text x="793.30" y="389.90" font-size="12.0" text-anchor="middle" font-weight="normal" fill="#231815" textLength="19.2" lengthAdjust="spacingAndGlyphs" >300</text>
<text x="819.10" y="389.90" font-size="12.0" text-anchor="middle" font-weight="normal" fill="#231815" textLength="19.2" lengthAdjust="spacingAndGlyphs" >400</text>
<text x="844.40" y="389.90" font-size="12.0" text-anchor="middle" font-weight="normal" fill="#231815" textLength="19.2" lengthAdjust="spacingAndGlyphs" >500</text>
<text x="869.70" y="389.90" font-size="12.0" text-anchor="middle" font-weight="normal" fill="#231815" textLength="19.2" lengthAdjust="spacingAndGlyphs" >600</text>
<text x="896.00" y="389.90" font-size="12.0" text-anchor="middle" font-weight="normal" fill="#231815" textLength="19.2" lengthAdjust="spacingAndGlyphs" >700</text>
<text x="922.00" y="389.90" font-size="12.0" text-anchor="middle" font-weight="normal" fill="#231815" textLength="19.2" lengthAdjust="spacingAndGlyphs" >800</text>
<text x="947.00" y="389.90" font-size="12.0" text-anchor="middle" font-weight="normal" fill="#231815" textLength="19.2" lengthAdjust="spacingAndGlyphs" >900</text>
<text x="834.80" y="408.00" font-size="12.0" text-anchor="middle" font-weight="bold" fill="#231815" letter-spacing="0.4">CFM</text>
<text font-size="12.0" font-weight="bold" fill="#231815" transform="translate(668.7,249.6) rotate(-90)">inH<tspan font-size="7.8" dy="1.2">2</tspan><tspan dy="-1.2">O</tspan></text>
<line x1="849.5" y1="82.8" x2="858.8" y2="82.8" stroke="#1da2d8" stroke-width="2.6"/>
<path d="M858.8,80.5 l4.6,4.6 M863.4,80.5 l-4.6,4.6" stroke="#111" stroke-width="1.6" fill="none"/>
<text x="864.80" y="87.10" font-size="12.2" text-anchor="start" font-weight="normal" fill="#231815" textLength="29.2" lengthAdjust="spacingAndGlyphs" >60Hz</text>
<line x1="904.6" y1="82.8" x2="914.8" y2="82.8" stroke="#9a9a9a" stroke-width="2.6"/>
<circle cx="917.2" cy="82.8" r="2.4" fill="#111"/>
<text x="921.40" y="87.10" font-size="12.2" text-anchor="start" font-weight="normal" fill="#231815" textLength="28.6" lengthAdjust="spacingAndGlyphs" >50Hz</text>
<line x1="748.5" y1="475.5" x2="785" y2="475.5" stroke="#666" stroke-width="1.2"/>
<line x1="785" y1="475.5" x2="835.5" y2="475.5" stroke="#bbb" stroke-width="1.2"/>
</svg>
</body></html>
